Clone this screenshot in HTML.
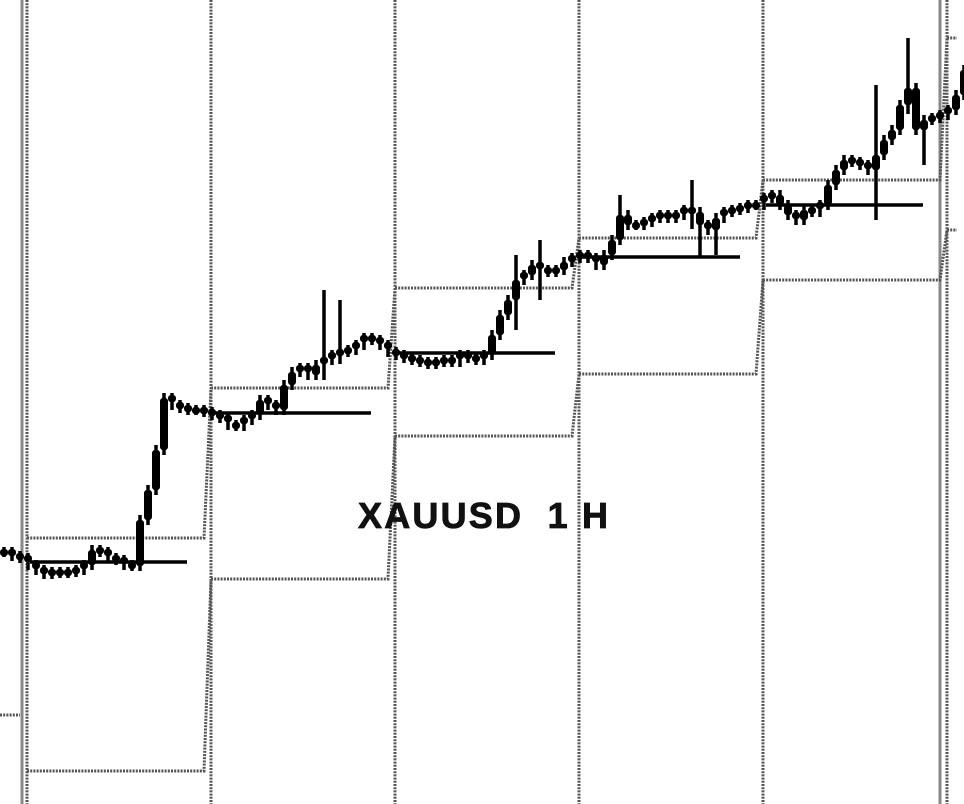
<!DOCTYPE html>
<html><head><meta charset="utf-8"><style>
html,body{margin:0;padding:0;background:#fff;}
svg{display:block;}
</style></head><body>
<svg id="chart" width="964" height="804" viewBox="0 0 964 804" xmlns="http://www.w3.org/2000/svg">
<g id="grid"></g>
<g id="bands"></g>
<g id="pivots"></g>
<g id="candles"></g>
<text x="358" y="528" textLength="250" lengthAdjust="spacing" font-family="Liberation Sans, sans-serif" font-weight="bold" font-size="36" fill="#111" stroke="#111" stroke-width="0.8" xml:space="preserve">XAUUSD  1 H</text>
</svg>
<script>
// price = 804 - pixel y (linear axis)
const closes = [252,248,246,239,234,230,232,231,232,234,239,254,252,246,244,239,238,284,314,354,406,399,396,394,394,392,389,386,379,378,384,389,404,399,394,419,432,436,429,439,444,449,452,454,459,466,464,459,452,449,446,444,442,440,442,444,442,449,446,444,449,469,489,504,524,529,539,534,532,534,542,546,549,546,539,549,564,589,579,579,582,586,589,586,589,594,592,579,574,586,592,594,596,599,599,606,609,599,589,584,594,592,599,619,634,644,642,639,634,649,664,674,699,716,674,684,686,689,694,709,734];
const spikeIdx = [40,42,64,67,77,86,87,89,109,113,115];
const spikeHigh = [514,504,549,564,609,624,580,590,719,766,650];
const spikeLow = [424,440,474,504,570,575,547,549,584,690,639];
const dayStarts = [27,211,395,579,763,947];
const bandUpper = [266,416,516,566,624,766];
const bandLower = [33,225,368,430,524,574];
const openLevel = [242,391,451,547,599];
const openEnd = [187,371,555,740,923];

const NS="http://www.w3.org/2000/svg";
function yS(p){return 804-p;}
function xI(i){return 4+i*8;}
function mk(tag,attrs,parent){const e=document.createElementNS(NS,tag);for(const k in attrs)e.setAttribute(k,attrs[k]);parent.appendChild(e);return e;}
const grid=document.getElementById('grid'),bands=document.getElementById('bands'),piv=document.getElementById('pivots'),cg=document.getElementById('candles');
const dot={stroke:'#555','stroke-width':3,'stroke-dasharray':'2 1.2',fill:'none'};
dayStarts.forEach((x,k)=>{
  const l=mk('line',Object.assign({x1:x,y1:0,x2:x,y2:804},dot),grid);
  
  
});
[22,940].forEach(x=>{
  const l=mk('line',{x1:x,y1:0,x2:x,y2:804,stroke:'#888','stroke-width':3},grid);
  
  
});
for(let k=0;k<dayStarts.length;k++){
  const x0=dayStarts[k];
  const x1=k+1<dayStarts.length?dayStarts[k+1]:964;
  [bandUpper,bandLower].forEach((arr,j)=>{
    let d='M'+x0+' '+yS(arr[k])+' L'+(x1-7)+' '+yS(arr[k]);
    if(k+1<dayStarts.length) d+=' L'+x1+' '+yS(arr[k+1]);
    const p=mk('path',Object.assign({d:d},dot),bands);
    
    
  });
}
const pre=mk('line',Object.assign({x1:0,y1:715,x2:20,y2:715},dot),bands);


openLevel.forEach((v,k)=>{
  const l=mk('line',{x1:dayStarts[k]+3,y1:yS(v),x2:openEnd[k],y2:yS(v),stroke:'#000','stroke-width':3.5},piv);
  
  
});
for(let i=0;i<closes.length;i++){
  const o=i>0?closes[i-1]:closes[0], c=closes[i];
  let hi=Math.max(o,c)+5, lo=Math.min(o,c)-5;
  const s=spikeIdx.indexOf(i);
  if(s>=0){hi=Math.max(hi,spikeHigh[s]);lo=Math.min(lo,spikeLow[s]);}
  const x=xI(i);
  const w=mk('line',{x1:x,y1:yS(hi),x2:x,y2:yS(lo),stroke:'#000','stroke-width':3.5},cg);
  
  
  const top=yS(Math.max(o,c)), h=Math.max(7,Math.abs(o-c));
  const b=mk('rect',{x:x-4,y:top-(h===7?3:0),width:8,height:h,rx:3,fill:'#000'},cg);
  
  
}
</script>
</body></html>
